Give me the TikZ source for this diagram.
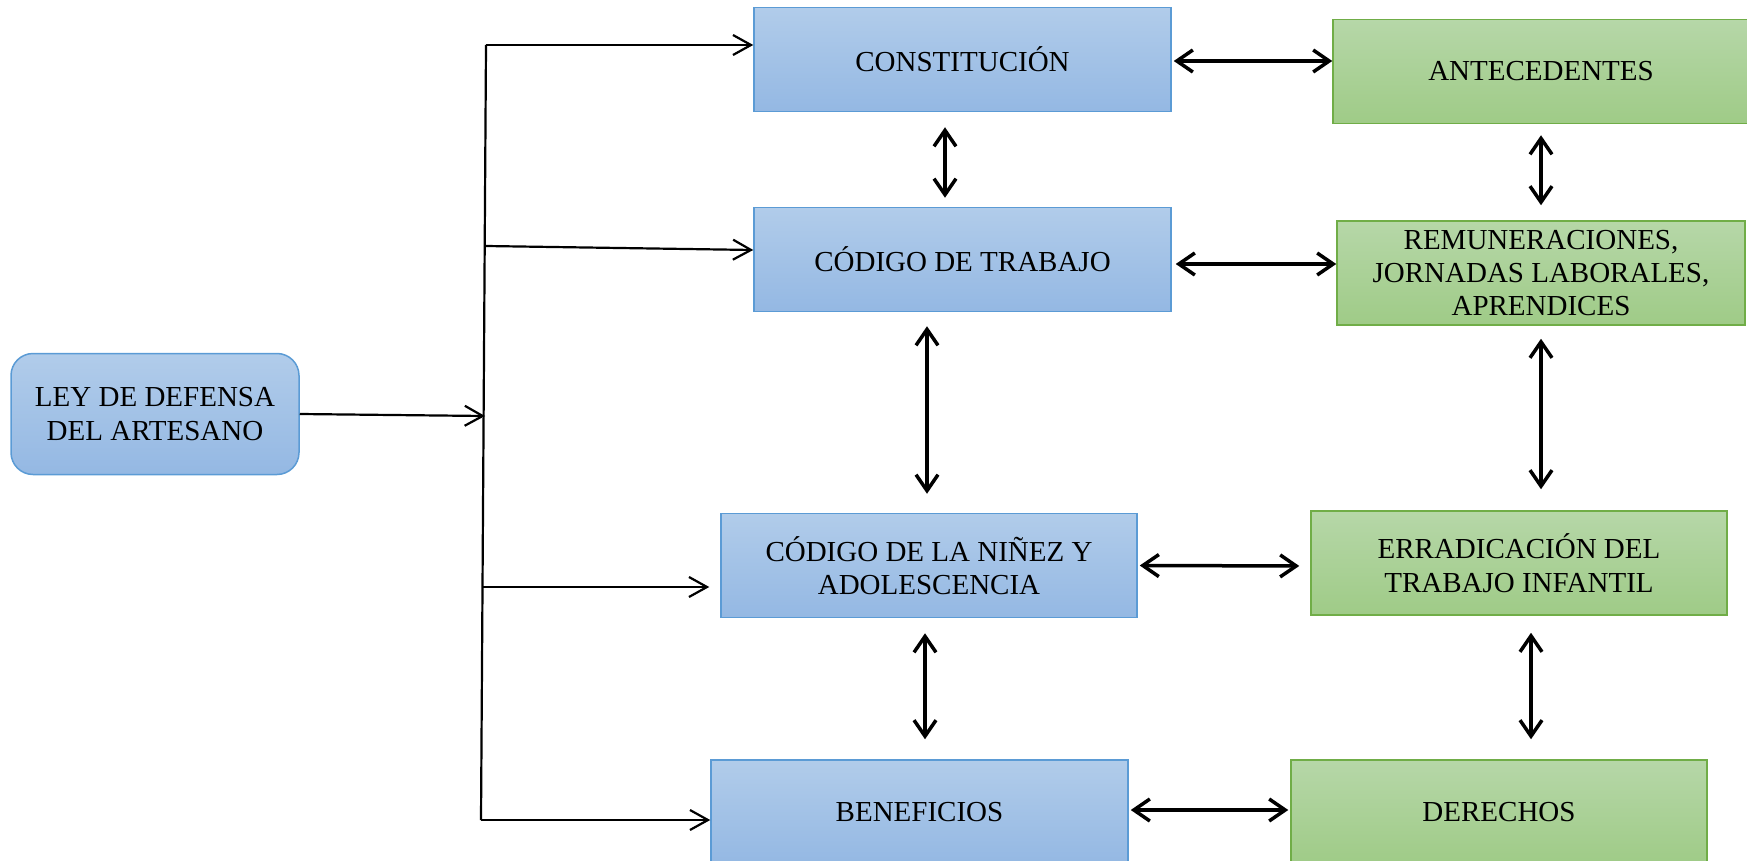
\documentclass[tikz,border=0pt]{standalone}
\usepackage{fontspec}
\setmainfont{Liberation Serif}
\usetikzlibrary{arrows.meta}

\definecolor{bluetop}{HTML}{B1CCEA}
\definecolor{bluebot}{HTML}{94B8E3}
\definecolor{blueline}{HTML}{5B9BD5}
\definecolor{greentop}{HTML}{B6D7A8}
\definecolor{greenbot}{HTML}{9FCB87}
\definecolor{greenline}{HTML}{70AD47}

\tikzset{
  box/.style={line width=1.5pt, minimum width=417pt, minimum height=104pt,
    inner sep=0pt, align=center, font=\fontsize{29}{33.4}\selectfont},
  bluebox/.style={box, draw=blueline, top color=bluetop, bottom color=bluebot},
  greenbox/.style={box, draw=greenline, top color=greentop, bottom color=greenbot},
  feed/.style={line width=2.2pt, -{Straight Barb[length=18pt,width=20pt]}},
  link/.style={line width=3.5pt, {Straight Barb[length=16pt,width=22pt]}-{Straight Barb[length=16pt,width=22pt]}}
}

\begin{document}
\begin{tikzpicture}[x=1pt,y=-1pt]

\useasboundingbox (0,0) rectangle (1747,861);

% 1. Main box on the left
\node[bluebox, rounded corners=22pt, minimum width=288pt, minimum height=121pt] (ley) at (155,414) {LEY DE DEFENSA\\DEL ARTESANO};

% 2. Blue column
\node[bluebox] (const) at (962.5,59.5) {CONSTITUCIÓN};
\node[bluebox] (ct) at (962.5,259.5) {CÓDIGO DE TRABAJO};
\node[bluebox, minimum width=416pt] (cn) at (929,565.5) {CÓDIGO DE LA NIÑEZ Y\\ADOLESCENCIA};
\node[bluebox] (ben) at (919.5,812) {BENEFICIOS};

% 3. Green column
\node[greenbox, minimum width=416pt] (antec) at (1541,71.5) {ANTECEDENTES};
\node[greenbox, minimum width=408pt] (rem) at (1541,273) {REMUNERACIONES,\\JORNADAS LABORALES,\\APRENDICES};
\node[greenbox, minimum width=416pt] (err) at (1519,563) {ERRADICACIÓN DEL\\TRABAJO INFANTIL};
\node[greenbox, minimum width=416pt] (der) at (1499,812) {DERECHOS};

% 4. Vertical bus and its branches
\coordinate (b1) at (486,45);
\coordinate (b2) at (486,246);
\coordinate (b3) at (483,587);
\coordinate (b4) at (481,820);
\coordinate (bley) at (485,416);
\draw[line width=2.2pt] (b1) -- (b4);
\draw[feed] (ley.east) -- (bley);
\draw[feed] (b1) -- ([yshift=14.5pt]const.west);
\draw[feed] (b2) -- ([yshift=9.5pt]ct.west);
\draw[feed, shorten >=11pt] (b3) -- ([yshift=-21.5pt]cn.west);
\draw[feed] (b4) -- ([yshift=-8pt]ben.west);

% 5. Horizontal double arrows
\draw[link, shorten <=2pt] ([yshift=-1.5pt]const.east) -- ([yshift=10.5pt]antec.west);
\draw[link, shorten <=4pt] ([yshift=-4.5pt]ct.east) -- ([yshift=9pt]rem.west);
\draw[link, shorten <=2pt, shorten >=11pt] (cn.east) -- ([yshift=-3pt]err.west);
\draw[link, shorten <=2pt, shorten >=2pt] ([yshift=2pt]ben.east) -- ([yshift=2pt]der.west);

% 6. Vertical double arrows
\draw[link, shorten <=15pt, shorten >=9pt] ([xshift=-17.5pt]const.south) -- ([xshift=-17.5pt]ct.north);
\draw[link, shorten <=11pt, shorten >=15pt] (antec.south) -- (rem.north);
\draw[link, shorten <=14pt, shorten >=19pt] ([xshift=-35.5pt]ct.south) -- ([xshift=-2pt]cn.north);
\draw[link, shorten <=13pt, shorten >=21pt] (rem.south) -- ([xshift=22pt]err.north);
\draw[link, shorten <=15pt, shorten >=20pt] ([xshift=-4pt]cn.south) -- ([xshift=5.5pt]ben.north);
\draw[link, shorten <=17pt, shorten >=20pt] ([xshift=12pt]err.south) -- ([xshift=32pt]der.north);

\end{tikzpicture}
\end{document}
